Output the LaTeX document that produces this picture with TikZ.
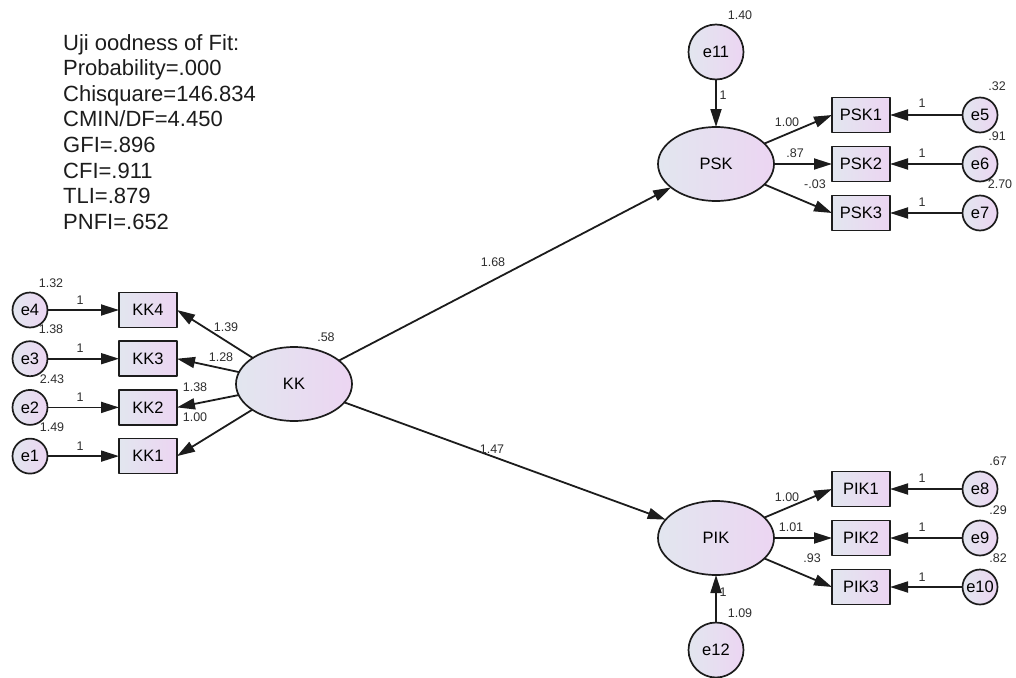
\documentclass[tikz,border=0pt]{standalone}
\usepackage{fontspec}
\setmainfont{Liberation Sans}
\usepackage{tikz}
\usetikzlibrary{arrows.meta,positioning,shapes.geometric}
\definecolor{ink}{HTML}{1C1C1C}
\definecolor{coefgray}{HTML}{2E2E2E}
\definecolor{gradleft}{HTML}{E2E6EF}
\definecolor{gradright}{HTML}{ECD5F2}
\tikzset{
    every picture/.style={line cap=round,line join=round},
    latent/.style={ellipse,draw=ink,line width=1.7pt,left color=gradleft,right color=gradright,
      minimum width=116pt,minimum height=74pt,inner sep=0pt,outer sep=0pt,
      font=\fontsize{16.5}{19}\selectfont},
    indbox/.style={rectangle,draw=ink,line width=1.7pt,left color=gradleft,right color=gradright,
      minimum width=58pt,minimum height=35pt,inner sep=0pt,outer sep=0pt,
      font=\fontsize{16.5}{19}\selectfont},
    errnode/.style={circle,draw=ink,line width=1.7pt,left color=gradleft,right color=gradright,
      minimum size=35pt,inner sep=0pt,outer sep=0pt,
      font=\fontsize{16.5}{19}\selectfont},
    bigerr/.style={errnode,minimum size=55pt},
    semarrow/.style={-{Triangle[length=18pt,width=11pt]},draw=ink,line width=1.8pt},
    coef/.style={inner sep=0pt,text=coefgray,font=\fontsize{12.5}{14}\selectfont},
    fitnote/.style={inner sep=0pt,align=left,text=ink,font=\fontsize{22}{25.6}\selectfont}
}
\begin{document}
\begin{tikzpicture}[x=1pt,y=-1pt]
  \useasboundingbox (0,0) rectangle (1016,677);
  \node[fitnote,anchor=north west] (fit) at (63,34)
    {Uji oodness of Fit:\\Probability=.000\\Chisquare=146.834\\CMIN/DF=4.450\\GFI=.896\\CFI=.911\\TLI=.879\\PNFI=.652};
  % latent variables
  \node[latent] (KK) at (294,384) {KK};
  \node[latent] (PSK) at (716,164) {PSK};
  \node[latent] (PIK) at (716,538) {PIK};
  \node[bigerr,above=47.5pt of PSK] (e11) {e11};
  \node[bigerr,below=47.5pt of PIK] (e12) {e12};
  % indicators of KK
  \node[indbox] (KK4) at (148,310) {KK4};
  \node[indbox,below=13.7pt of KK4] (KK3) {KK3};
  \node[indbox,below=13.7pt of KK3] (KK2) {KK2};
  \node[indbox,below=13.7pt of KK2] (KK1) {KK1};
  \node[errnode,left=71.5pt of KK4] (e4) {e4};
  \node[errnode,left=71.5pt of KK3] (e3) {e3};
  \node[errnode,left=71.5pt of KK2] (e2) {e2};
  \node[errnode,left=71.5pt of KK1] (e1) {e1};
  % indicators of PSK and PIK
  \node[indbox] (PSK1) at (861,115) {PSK1};
  \node[indbox,below=14pt of PSK1] (PSK2) {PSK2};
  \node[indbox,below=14pt of PSK2] (PSK3) {PSK3};
  \node[indbox] (PIK1) at (861,489) {PIK1};
  \node[indbox,below=14pt of PIK1] (PIK2) {PIK2};
  \node[indbox,below=14pt of PIK2] (PIK3) {PIK3};
  \node[errnode,right=72.5pt of PSK1] (e5) {e5};
  \node[errnode,right=72.5pt of PSK2] (e6) {e6};
  \node[errnode,right=72.5pt of PSK3] (e7) {e7};
  \node[errnode,right=72.5pt of PIK1] (e8) {e8};
  \node[errnode,right=72.5pt of PIK2] (e9) {e9};
  \node[errnode,right=72.5pt of PIK3] (e10) {e10};
  % paths
  \foreach \i in {1,...,4} {
    \draw[semarrow] (e\i) -- (KK\i);
    \draw[semarrow] (KK) -- (KK\i.east);
  }
  \foreach \i/\e in {1/5,2/6,3/7} {
    \draw[semarrow] (e\e) -- (PSK\i);
    \draw[semarrow] (PSK) -- (PSK\i.west);
  }
  \foreach \i/\e in {1/8,2/9,3/10} {
    \draw[semarrow] (e\e) -- (PIK\i);
    \draw[semarrow] (PIK) -- (PIK\i.west);
  }
  \draw[semarrow] (KK) -- (PSK);
  \draw[semarrow] (KK) -- (PIK);
  \draw[semarrow] (e11) -- (PSK);
  \draw[semarrow] (e12) -- (PIK);
  % estimates
  \node[coef] (v4) at (51,283) {1.32};
  \node[coef] (v3) at (51,329) {1.38};
  \node[coef] (v2) at (52,379) {2.43};
  \node[coef] (v1) at (52,427) {1.49};
  \foreach \y [count=\k] in {300,348,397,446}
    \node[coef] (f\k) at (80,\y) {1};
  \node[coef] (l4) at (226,327) {1.39};
  \node[coef] (l3) at (221,357) {1.28};
  \node[coef] (l2) at (195,387) {1.38};
  \node[coef] (l1) at (195,417) {1.00};
  \node[coef] (vKK) at (326,337) {.58};
  \node[coef] (bPSK) at (493,262) {1.68};
  \node[coef] (bPIK) at (492,449) {1.47};
  \node[coef] (v11) at (740,15) {1.40};
  \node[coef] (f11) at (723,95) {1};
  \node[coef] (m1) at (787,122) {1.00};
  \node[coef] (m2) at (795,153) {.87};
  \node[coef] (m3) at (815,184) {-.03};
  \foreach \y [count=\k] in {103,153,202}
    \node[coef] (g\k) at (922,\y) {1};
  \node[coef] (v5) at (997,86) {.32};
  \node[coef] (v6) at (997,136) {.91};
  \node[coef] (v7) at (1000,184) {2.70};
  \node[coef] (n1) at (787,497) {1.00};
  \node[coef] (n2) at (791,527) {1.01};
  \node[coef] (n3) at (812,558) {.93};
  \foreach \y [count=\k] in {478,527,577}
    \node[coef] (h\k) at (922,\y) {1};
  \node[coef] (v8) at (998,461) {.67};
  \node[coef] (v9) at (998,510) {.29};
  \node[coef] (v10) at (998,558) {.82};
  \node[coef] (v12) at (740,613) {1.09};
  \node[coef] (f12) at (723,592) {1};
\end{tikzpicture}
\end{document}
